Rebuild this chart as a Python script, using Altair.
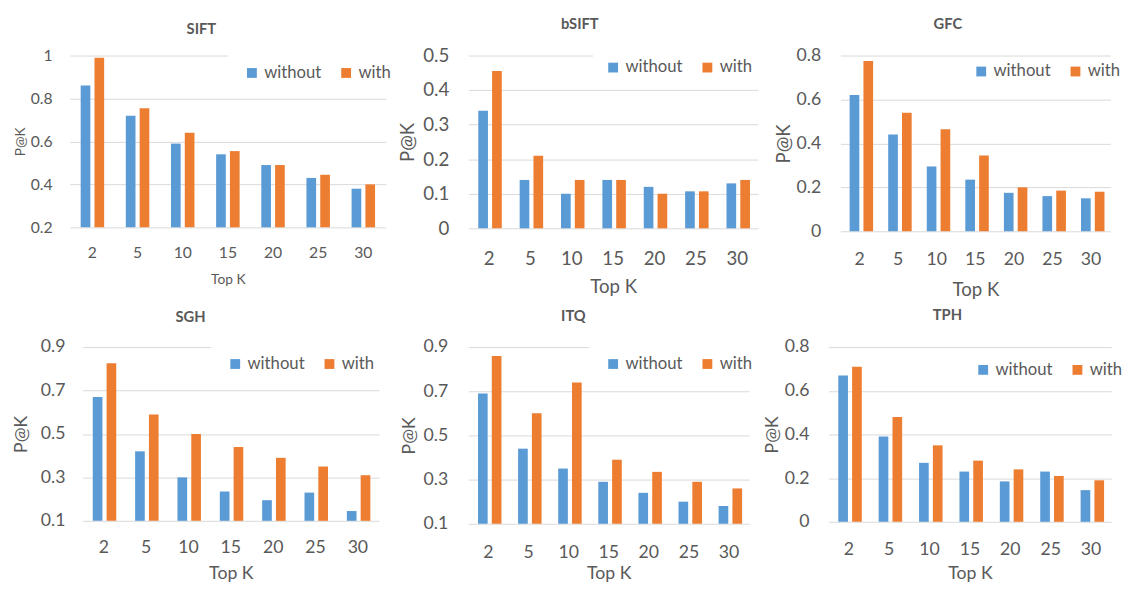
import altair as alt
import pandas as pd

K = ["2", "5", "10", "15", "20", "25", "30"]
SERIES = ["without", "with"]
COLORS = ["#5B9BD5", "#ED7D31"]

sift_without = [0.86, 0.72, 0.59, 0.54, 0.49, 0.43, 0.38]
sift_with = [0.99, 0.755, 0.64, 0.555, 0.49, 0.445, 0.40]
bsift_without = [0.34, 0.14, 0.10, 0.14, 0.12, 0.107, 0.13]
bsift_with = [0.455, 0.21, 0.14, 0.14, 0.10, 0.107, 0.14]
gfc_without = [0.62, 0.44, 0.295, 0.235, 0.175, 0.16, 0.15]
gfc_with = [0.775, 0.54, 0.465, 0.345, 0.20, 0.185, 0.18]
sgh_without = [0.67, 0.42, 0.30, 0.235, 0.195, 0.23, 0.145]
sgh_with = [0.825, 0.59, 0.50, 0.44, 0.39, 0.35, 0.31]
itq_without = [0.69, 0.44, 0.35, 0.29, 0.24, 0.20, 0.18]
itq_with = [0.86, 0.60, 0.74, 0.39, 0.335, 0.29, 0.26]
tph_without = [0.67, 0.39, 0.27, 0.23, 0.185, 0.23, 0.145]
tph_with = [0.71, 0.48, 0.35, 0.28, 0.24, 0.21, 0.19]

ticks_sift = [0.2, 0.4, 0.6, 0.8, 1.0]
ticks_bsift = [0, 0.1, 0.2, 0.3, 0.4, 0.5]
ticks_gfc = [0, 0.2, 0.4, 0.6, 0.8]
ticks_sgh = [0.1, 0.3, 0.5, 0.7, 0.9]
ticks_itq = [0.1, 0.3, 0.5, 0.7, 0.9]
ticks_tph = [0, 0.2, 0.4, 0.6, 0.8]

TXT = "#595959"
GRID = "#d9d9d9"
FONT = "Lato"


def panel(name, wo, wi, ticks, w, h, fs, tfs, lfs, ylp, ytx, xlp, xty,
          lx, ly, lpad, toff, tdx):
    df = pd.DataFrame({
        "K": K + K,
        "P": wo + wi,
        "series": ["without"] * len(K) + ["with"] * len(K),
    })
    return alt.Chart(df).mark_bar().encode(
        x=alt.X("K:N", sort=K,
                scale=alt.Scale(paddingInner=0.48, paddingOuter=0.24),
                axis=alt.Axis(title="Top K", labelAngle=0, labelFontSize=fs,
                              titleFontSize=tfs, labelPadding=xlp,
                              titleY=xty, titleBaseline="middle",
                              domain=False, ticks=False, tickSize=0,
                              labelColor=TXT, titleColor=TXT,
                              titleFontWeight="normal", labelFont=FONT,
                              titleFont=FONT)),
        xOffset=alt.XOffset("series:N", sort=SERIES,
                            scale=alt.Scale(paddingInner=0.3)),
        y=alt.Y("P:Q",
                scale=alt.Scale(domain=[ticks[0], ticks[-1]], nice=False,
                                zero=False),
                axis=alt.Axis(values=ticks, format="~g", title="P@K",
                              grid=True, gridColor=GRID, gridWidth=1,
                              domain=False, ticks=False, tickSize=0,
                              labelPadding=ylp, labelFontSize=fs,
                              titleFontSize=tfs, titleX=ytx, titleY=h / 2,
                              titleBaseline="middle", labelColor=TXT,
                              titleColor=TXT, titleFontWeight="normal",
                              labelFont=FONT, titleFont=FONT)),
        y2=alt.datum(ticks[0]),
        color=alt.Color("series:N",
                        scale=alt.Scale(domain=SERIES, range=COLORS),
                        legend=alt.Legend(orient="none", legendX=lx,
                                          legendY=ly, direction="horizontal",
                                          title=None, symbolType="square",
                                          symbolSize=100,
                                          symbolStrokeWidth=0,
                                          labelFontSize=lfs, labelColor=TXT,
                                          labelFont=FONT, labelOffset=4,
                                          columnPadding=16, padding=lpad,
                                          fillColor="white")),
    ).properties(
        width=w, height=h,
        title=alt.TitleParams(name, offset=toff, dx=tdx, fontSize=15,
                              fontWeight="bold", color=TXT, font=FONT,
                              baseline="middle", anchor="middle",
                              frame="group"),
    )


def spacer(w):
    # empty view that only reserves horizontal room between panels
    return alt.Chart(pd.DataFrame({"K": []})).mark_point(opacity=0).properties(
        width=w, height=1)


sift = panel("SIFT", sift_without, sift_with, ticks_sift, 322, 175,
             16, 14, 17, 18, -50, 18, 53.5, 161, -7, 16, 3.5, -27)
bsift = panel("bSIFT", bsift_without, bsift_with, ticks_bsift, 295, 176,
              19, 19, 17, 20, -62, 21.5, 59.5, 127, -8.5, 12, 8, -34)
gfc = panel("GFC", gfc_without, gfc_with, ticks_gfc, 275, 179,
            18, 19, 17, 20, -58, 20, 59, 129, 1.5, 6, 8.5, -28)
sgh = panel("SGH", sgh_without, sgh_with, ticks_sgh, 302, 177,
            18, 18, 17, 18, -62.5, 18, 54, 131, -7.5, 16, 6.5, -41)
itq = panel("ITQ", itq_without, itq_with, ticks_itq, 286, 180,
            18, 18, 17, 21, -60, 20.5, 51, 123, -7.5, 16, 7.5, -36)
tph = panel("TPH", tph_without, tph_with, ticks_tph, 288, 178,
            18, 18, 17, 20, -57, 19, 53, 145, 10.5, 4, 9, -23)

top = alt.hconcat(spacer(55), sift, spacer(84), bsift, spacer(84), gfc,
                  spacing=0, bounds="flush").resolve_legend(color="independent")
bottom = alt.hconcat(spacer(68), sgh, spacer(91), itq, spacer(81), tph,
                     spacing=0, bounds="flush").resolve_legend(color="independent")

chart = alt.ConcatChart(concat=[top, bottom], columns=1, align="none",
                        spacing=9).resolve_legend(color="independent").properties(
    padding={"left": 4, "top": 3, "right": 0, "bottom": 0}
).configure(font=FONT).configure_view(stroke=None)

chart.save("out.html", embed_options={"renderer": "svg", "actions": False})
